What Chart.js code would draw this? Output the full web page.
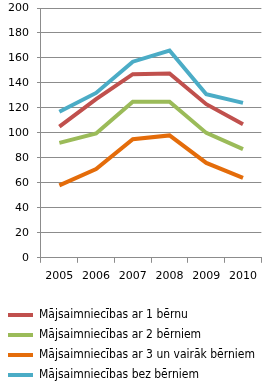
<!DOCTYPE html>
<html>
<head>
<meta charset="utf-8">
<script src="https://cdn.jsdelivr.net/npm/chart.js@4"></script>
<style>
  html, body { margin: 0; padding: 0; background: #fff; }
  #wrap { width: 264px; height: 387px; }
</style>
</head>
<body>
<div id="wrap"><canvas id="chart"></canvas></div>
<script>
const years = ['2005', '2006', '2007', '2008', '2009', '2010'];
const arVienu = [105, 127, 147, 147.5, 123, 107];
const arDiviem = [92, 99.5, 125, 125, 100, 87];
const arTrim = [58, 71, 95, 98, 76, 64];
const bezBerniem = [117, 132, 157, 166, 131, 124];

const grid = '#8c8c8c';

new Chart(document.getElementById('chart').getContext('2d'), {
    type: 'line',
    data: {
        labels: years,
        datasets: [
            { label: 'Mājsaimniecības ar 1 bērnu', data: arVienu, borderColor: '#c0504d' },
            { label: 'Mājsaimniecības ar 2 bērniem', data: arDiviem, borderColor: '#9bbb59' },
            { label: 'Mājsaimniecības ar 3 un vairāk bērniem', data: arTrim, borderColor: '#e46c0a' },
            { label: 'Mājsaimniecības bez bērniem', data: bezBerniem, borderColor: '#4bacc6' }
        ]
    },
    options: {
        responsive: true,
        maintainAspectRatio: false,
        animation: false,
        elements: {
            line: { borderWidth: 4, tension: 0 },
            point: { radius: 0 }
        },
        layout: { padding: { top: 0, left: 0, right: 0, bottom: -4 } },
        plugins: {
            legend: {
                position: 'bottom',
                align: 'start',
                labels: {
                    usePointStyle: true,
                    pointStyle: 'line',
                    pointStyleWidth: 25,
                    color: '#000',
                    padding: 8,
                    font: { family: 'DejaVu Sans Condensed, DejaVu Sans', size: 12 },
                    generateLabels: (chart) => chart.data.datasets.map((ds, i) => ({
                        text: ds.label,
                        strokeStyle: ds.borderColor,
                        fillStyle: ds.borderColor,
                        lineWidth: 4,
                        pointStyle: 'line',
                        datasetIndex: i
                    }))
                }
            },
            tooltip: { enabled: false }
        },
        scales: {
            x: {
                offset: true,
                grid: { offset: true, drawOnChartArea: false, tickLength: 5, color: grid },
                border: { color: grid },
                ticks: { color: '#000', padding: 7, font: { family: 'DejaVu Sans', size: 11 } },
                afterFit: (s) => { s.height += 11; }
            },
            y: {
                min: 0,
                max: 200,
                ticks: { stepSize: 20, color: '#000', padding: 8, font: { family: 'DejaVu Sans', size: 11 } },
                grid: { color: grid, tickLength: 4 },
                border: { color: grid },
                afterFit: (s) => { s.paddingTop = 8; }
            }
        }
    }
});
</script>
</body>
</html>
